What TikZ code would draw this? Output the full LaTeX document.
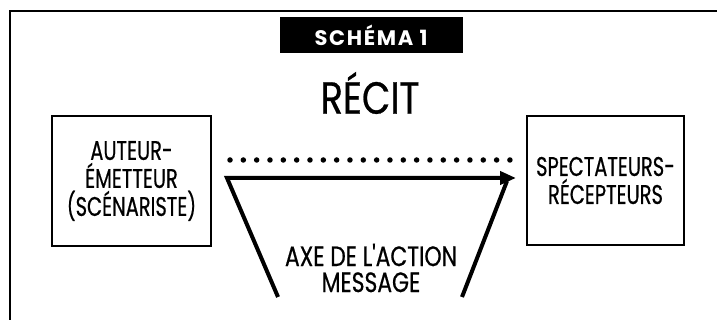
\documentclass[tikz,border=0pt]{standalone}
\usepackage{fontspec}
\setmainfont{Poppins}[FakeStretch=0.72, FakeBold=0.6]
\newfontfamily\titlefont{Poppins}[LetterSpace=8]
\newfontfamily\recitfont{Poppins}[FakeStretch=0.82, FakeBold=0.6]
\newfontfamily\axefont{Poppins}[FakeStretch=0.78, FakeBold=0.6]
\usetikzlibrary{arrows.meta}
\tikzset{
  frameline/.style={line width=2.5pt},
  boxstyle/.style={draw, line width=2pt, align=center, inner sep=0pt,
    font=\fontsize{27}{28}\selectfont},
  thickline/.style={line width=4pt, line join=miter},
  dotline/.style={line width=5.5pt, line cap=round, dash pattern=on 0pt off 13.33pt},
}
\begin{document}
\begin{tikzpicture}[x=1pt,y=-1pt]
\useasboundingbox (0,0) rectangle (717,320);
% outer frame (open on right and bottom)
\coordinate (fbl) at (10,320);
\coordinate (ftl) at (10,11);
\coordinate (ftr) at (717,11);
\draw[frameline] (fbl) -- (ftl) -- (ftr);
% title
\node[fill=black, text=white, minimum width=183pt, minimum height=36pt, inner sep=0pt,
  font=\titlefont\bfseries\fontsize{21}{21}\selectfont] (title) at (371,35) {SCHÉMA 1};
\node[font=\recitfont\fontsize{45}{45}\selectfont, inner sep=0pt] (recit) at (370,93) {RÉCIT};
% boxes
\node[boxstyle, minimum width=159pt, minimum height=130pt] (auteur) at (131.5,181)
  {AUTEUR-\\ÉMETTEUR\\(SCÉNARISTE)};
\node[boxstyle, minimum width=157pt, minimum height=129pt] (spect) at (605.5,180.5)
  {SPECTATEURS-\\RÉCEPTEURS};
% dotted line
\coordinate (d1) at (230,160);
\coordinate (d2) at (511,160);
\draw[dotline] (d1) -- (d2);
% arrow
\coordinate (lb) at (278,297);
\coordinate (lc) at (227,178);
\coordinate (tip) at (516,178);
\coordinate (rb) at (462,297);
\coordinate (rt) at (507,181);
\draw[thickline, -{Triangle[length=16pt,width=13pt]}] (lb) -- (lc) -- (tip);
\draw[thickline] (rb) -- (rt);
\node[align=center, inner sep=0pt, font=\axefont\fontsize{28}{26}\selectfont] (axe) at (371,268)
  {AXE DE L'ACTION\\MESSAGE};
\end{tikzpicture}
\end{document}
